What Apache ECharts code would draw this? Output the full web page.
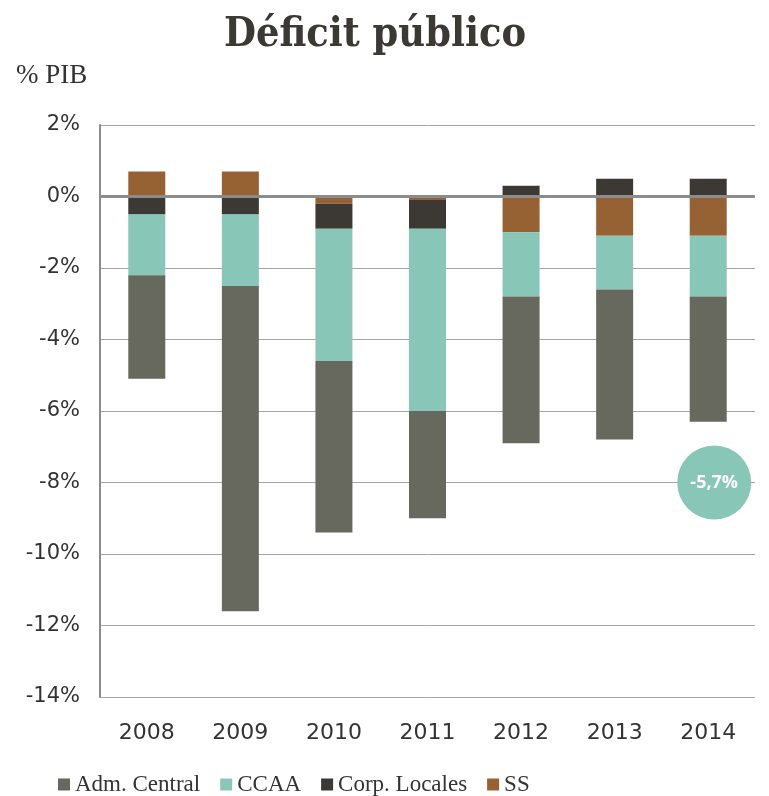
<!DOCTYPE html>
<html>
<head>
<meta charset="utf-8">
<script src="https://cdn.jsdelivr.net/npm/echarts@6/dist/echarts.min.js"></script>
<style>
  html, body { margin: 0; padding: 0; background: #fff; }
  #chart { width: 769px; height: 796px; }
</style>
</head>
<body>
<div id="chart"></div>
<script>
// Data (% PIB)
const years = ['2008', '2009', '2010', '2011', '2012', '2013', '2014'];
const admCentral = [-2.9, -9.1, -4.8, -3.0, -4.1, -4.2, -3.5];
const ccaa = [-1.7, -2.0, -3.7, -5.1, -1.8, -1.5, -1.7];
const corpLocales = [-0.5, -0.5, -0.7, -0.8, 0.3, 0.5, 0.5];
const ss = [0.7, 0.7, -0.2, -0.1, -1.0, -1.1, -1.1];
const totalLabel = '-5,7%';

const COLORS = {
  adm: '#67695e',
  ccaa: '#88c7b8',
  corp: '#3c3934',
  ss: '#976233'
};

const labelFont = 'DejaVu Sans';

function barSeries(name, data, color) {
  return {
    name: name,
    type: 'bar',
    stack: 'total',
    barWidth: 37,
    data: data,
    itemStyle: { color: color },
    emphasis: { disabled: true }
  };
}

const chart = echarts.init(document.getElementById('chart'));

// stacking order from zero outward: SS, Corp. Locales, CCAA, Adm. Central
const series = [
  barSeries('SS', ss, COLORS.ss),
  barSeries('Corp. Locales', corpLocales, COLORS.corp),
  barSeries('CCAA', ccaa, COLORS.ccaa),
  barSeries('Adm. Central', admCentral, COLORS.adm)
];

// total annotation bubble
series[3].markPoint = {
  silent: true,
  symbol: 'circle',
  symbolSize: 74,
  symbolOffset: [6, 0],
  itemStyle: { color: COLORS.ccaa },
  label: {
    show: true,
    formatter: totalLabel,
    color: '#fff',
    fontWeight: 'bold',
    fontSize: 18,
    fontFamily: 'Open Sans'
  },
  data: [{ coord: ['2014', -8] }]
};

chart.setOption({
  animation: false,
  title: {
    text: 'Déficit público',
    left: 370,
    textAlign: 'center',
    top: 10,
    textStyle: {
      fontFamily: 'DejaVu Serif Condensed',
      fontWeight: 'bold',
      fontSize: 41,
      color: '#3c3934'
    }
  },
  graphic: [{
    type: 'text',
    left: 16,
    top: 62,
    style: {
      text: '% PIB',
      font: '27px "Liberation Serif"',
      fill: '#333'
    }
  }],
  legend: {
    data: ['Adm. Central', 'CCAA', 'Corp. Locales', 'SS'],
    left: 53,
    top: 768,
    icon: 'rect',
    itemWidth: 12,
    itemHeight: 12,
    itemGap: 20,
    textStyle: {
      fontFamily: 'Liberation Serif',
      fontSize: 23,
      color: '#333'
    }
  },
  grid: {
    left: 100,
    right: 14,
    top: 125,
    bottom: 99
  },
  xAxis: {
    type: 'category',
    data: years,
    position: 'bottom',
    axisLine: { show: false },
    axisTick: { show: false },
    axisLabel: {
      margin: 25,
      fontFamily: labelFont,
      fontSize: 22,
      color: '#333'
    }
  },
  yAxis: {
    type: 'value',
    min: -14,
    max: 2,
    interval: 2,
    axisLine: { show: true, lineStyle: { color: '#8c8c8c', width: 2 } },
    axisTick: { show: false },
    splitLine: { lineStyle: { color: '#a6a6a6', width: 1 } },
    axisLabel: {
      margin: 20,
      fontFamily: labelFont,
      fontSize: 21,
      color: '#333',
      formatter: v => v + '%'
    }
  },
  series: series.concat([{
    // zero line drawn over bars
    type: 'line',
    data: [],
    markLine: {
      silent: true,
      symbol: 'none',
      label: { show: false },
      lineStyle: { color: '#8c8c8c', width: 3, type: 'solid' },
      data: [{ yAxis: 0 }]
    },
    z: 10
  }])
});
</script>
</body>
</html>
